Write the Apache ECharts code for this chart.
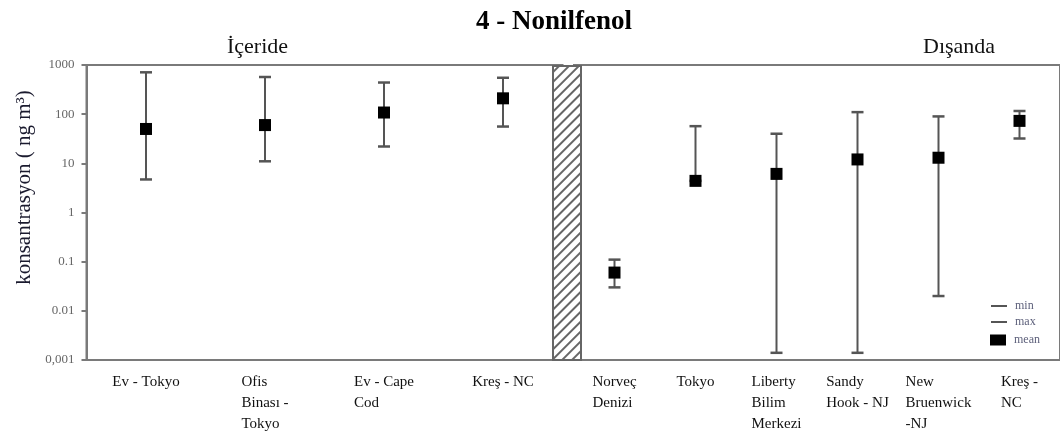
<!DOCTYPE html>
<html>
<head>
<meta charset="utf-8">
<script src="https://cdn.jsdelivr.net/npm/echarts@6/dist/echarts.min.js"></script>
<style>
  html, body { margin: 0; padding: 0; background: #fff; }
  #chart { width: 1060px; height: 434px; }
</style>
</head>
<body>
<div id="chart"></div>
<script>
// Indoor (İçeride) sites
var indoorNames = ['Ev - Tokyo', 'Ofis\nBinası -\nTokyo', 'Ev - Cape\nCod', 'Kreş - NC'];
var indoorMin = [4.7, 11, 22, 56];
var indoorMean = [50, 60, 108, 210];
var indoorMax = [710, 570, 440, 550];

// Outdoor (Dışanda) sites
var outdoorNames = ['Norveç\nDenizi', 'Tokyo', 'Liberty\nBilim\nMerkezi', 'Sandy\nHook - NJ', 'New\nBruenwick\n-NJ', 'Kreş -\nNC'];
var outdoorMin = [0.03, 4.4, 0.0014, 0.0014, 0.02, 32];
var outdoorMean = [0.06, 4.4, 6.1, 12, 13, 73];
var outdoorMax = [0.11, 57, 40, 110, 90, 116];

var yTickLabels = ['0,001', '0.01', '0.1', '1', '10', '100', '1000'];

(function() {
  var serif = '"Liberation Serif", "DejaVu Serif", serif';
  var axisGray = '#7a7a7a';
  var barGray = '#555';

  var chart = echarts.init(document.getElementById('chart'), null, { renderer: 'canvas' });

  function ranges(mins, maxs) {
    return mins.map(function(v, i) { return [i, v, maxs[i]]; });
  }

  function rangeItem(params, api) {
    var hi = api.coord([api.value(0), api.value(2)]);
    var lo = api.coord([api.value(0), api.value(1)]);
    return {
      type: 'line',
      shape: { x1: hi[0], y1: hi[1], x2: lo[0], y2: lo[1] },
      style: { stroke: barGray, lineWidth: 2 }
    };
  }

  function labelLines(value) {
    return value.split('\n').map(function(s) { return '{l|' + s + '}'; }).join('\n');
  }

  function xAxisFor(names, gridIndex) {
    return {
      type: 'category',
      gridIndex: gridIndex,
      data: names,
      boundaryGap: true,
      axisLine: { lineStyle: { color: axisGray, width: 2 } },
      axisTick: { length: 5, lineStyle: { color: axisGray, width: 2 } },
      axisLabel: {
        interval: 0,
        margin: 12,
        formatter: labelLines,
        rich: { l: { align: 'left', fontFamily: serif, fontSize: 15, lineHeight: 21, color: '#111' } }
      }
    };
  }

  function yAxisFor(gridIndex, visible) {
    return {
      type: 'log',
      gridIndex: gridIndex,
      min: 0.001,
      max: 1000,
      logBase: 10,
      splitLine: { show: false },
      axisLine: { show: visible, lineStyle: { color: axisGray, width: 2 } },
      axisTick: { show: visible, length: 5, lineStyle: { color: axisGray, width: 2 } },
      axisLabel: {
        show: visible,
        margin: 12,
        fontFamily: serif,
        fontSize: 13,
        color: '#666',
        formatter: function(v) { return yTickLabels[Math.round(Math.log10(v)) + 3]; }
      },
      name: visible ? 'konsantrasyon ( ng m³)' : '',
      nameLocation: 'middle',
      nameGap: 52,
      nameTextStyle: { fontFamily: serif, fontSize: 21, color: '#1a1a2e', padding: [0, 0, 0, 50] }
    };
  }

  function groupSeries(idx, mins, means, maxs) {
    return [
      { type: 'custom', name: 'range', xAxisIndex: idx, yAxisIndex: idx, renderItem: rangeItem,
        data: ranges(mins, maxs), z: 2 },
      { type: 'scatter', name: 'min', xAxisIndex: idx, yAxisIndex: idx, symbol: 'rect',
        symbolSize: [12, 2.5], itemStyle: { color: barGray, opacity: 1 }, data: mins, z: 3 },
      { type: 'scatter', name: 'max', xAxisIndex: idx, yAxisIndex: idx, symbol: 'rect',
        symbolSize: [12, 2.5], itemStyle: { color: barGray, opacity: 1 }, data: maxs, z: 3 },
      { type: 'scatter', name: 'mean', xAxisIndex: idx, yAxisIndex: idx, symbol: 'rect',
        symbolSize: [12, 12], itemStyle: { color: '#000', opacity: 1 }, data: means, z: 4 }
    ];
  }

  var legendText = { fontFamily: serif, fontSize: 12, color: '#5c5f7a', padding: [0, 0, 0, 3] };

  chart.setOption({
    animation: false,
    backgroundColor: '#fff',
    title: [
      { text: '4 - Nonilfenol', left: 471, top: 4,
        textStyle: { fontFamily: serif, fontWeight: 'bold', fontSize: 27, color: '#000' } },
      { text: 'İçeride', left: 222, top: 31,
        textStyle: { fontFamily: serif, fontWeight: 'normal', fontSize: 22, color: '#111' } },
      { text: 'Dışanda', left: 918, top: 31,
        textStyle: { fontFamily: serif, fontWeight: 'normal', fontSize: 22, color: '#111' } }
    ],
    legend: [
      { data: ['min'], left: 986, top: 295, itemWidth: 16, itemHeight: 2, selectedMode: false, textStyle: legendText },
      { data: ['max'], left: 986, top: 311, itemWidth: 16, itemHeight: 2, selectedMode: false, textStyle: legendText },
      { data: ['mean'], left: 985, top: 329, itemWidth: 16, itemHeight: 11, selectedMode: false, textStyle: legendText }
    ],
    grid: [
      { left: 86.5, top: 65, width: 476, height: 295, show: true, borderColor: axisGray, borderWidth: 2, backgroundColor: 'transparent' },
      { left: 574, top: 65, width: 489, height: 295, show: true, borderColor: axisGray, borderWidth: 2, backgroundColor: 'transparent' },
      { left: 552, top: 65, width: 30, height: 296 }
    ],
    xAxis: [
      xAxisFor(indoorNames, 0),
      xAxisFor(outdoorNames, 1),
      { type: 'category', gridIndex: 2, data: [''], show: false }
    ],
    yAxis: [
      yAxisFor(0, true),
      yAxisFor(1, false),
      { type: 'value', gridIndex: 2, min: 0, max: 1, show: false, splitLine: { show: false } }
    ],
    series: groupSeries(0, indoorMin, indoorMean, indoorMax)
      .concat(groupSeries(1, outdoorMin, outdoorMean, outdoorMax))
      .concat([{
        type: 'bar', name: 'separator', xAxisIndex: 2, yAxisIndex: 2, barWidth: '100%', data: [1], z: 10,
        itemStyle: {
          color: '#fff', borderColor: '#666', borderWidth: 2,
          decal: { symbol: 'rect', symbolSize: 1, dashArrayX: [1, 0], dashArrayY: [2, 5],
                   rotation: -Math.PI / 4, color: '#666' }
        }
      }])
  });
  window.addEventListener('resize', function() { chart.resize(); });
})();
</script>
</body>
</html>
